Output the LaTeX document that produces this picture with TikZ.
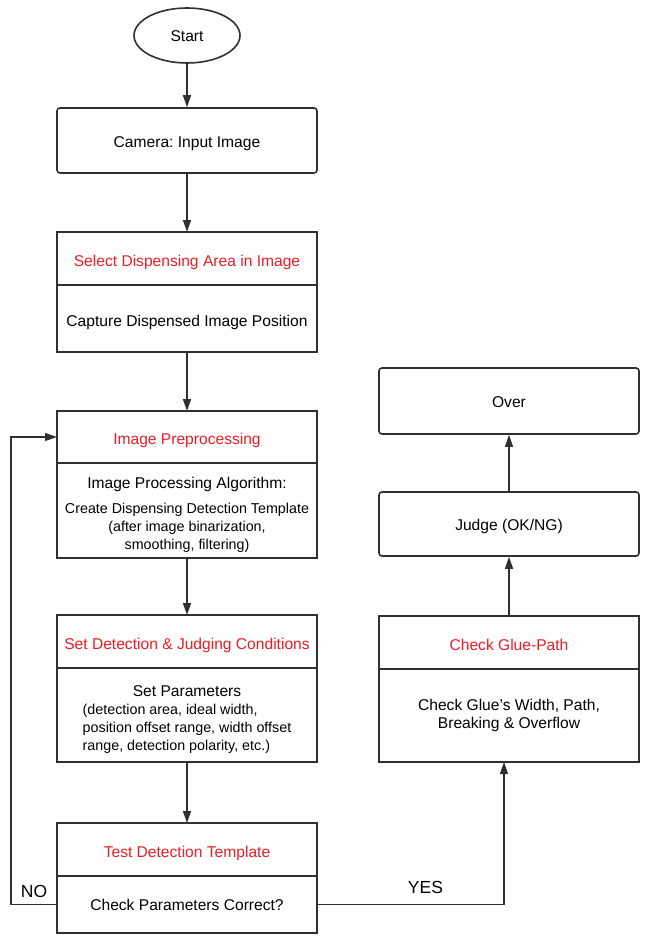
\documentclass[tikz,border=0pt]{standalone}
\usepackage{fontspec}
\setmainfont{Liberation Sans}
\usetikzlibrary{arrows.meta,positioning,shapes.geometric}
\definecolor{fcred}{HTML}{EC1C24}
\definecolor{fcline}{HTML}{303030}
\newcommand{\smalltxt}{\fontsize{14.3}{18}\selectfont}
\frenchspacing

\begin{document}
\begin{tikzpicture}[
  x=1pt, y=-1pt,
  font=\fontsize{15.6}{18}\selectfont,
  term/.style={draw=fcline, line width=1.6pt, ellipse, minimum width=106pt,
    minimum height=55pt, inner sep=0pt, text height=13pt, text depth=0pt},
  proc/.style={draw=fcline, line width=1.6pt, rounded corners=3pt,
    minimum width=260pt, align=center, text height=13.5pt, text depth=0pt},
  head/.style={draw=fcline, line width=1.6pt, minimum width=260pt,
    minimum height=53pt, outer sep=0pt, text=fcred, align=center,
    text height=15pt, text depth=0pt},
  body/.style={draw=fcline, line width=1.6pt, minimum width=260pt,
    outer sep=0pt, inner xsep=2pt, align=center},
  arr/.style={-{Triangle[length=12pt,width=8pt]}, line width=1.6pt, fcline},
  back/.style={-{Triangle[length=12pt,width=8pt]}, line width=1.1pt, fcline},
  lbl/.style={font=\fontsize{17.5}{20}\selectfont, text=black},
]
\useasboundingbox (0,0) rectangle (652,944);

% left column
\node[term] (start) at (187,35.5) {Start};
\node[proc, minimum height=65pt] (cam) at (187,140.5) {Camera: Input Image};
\node[head] (selh) at (187,258.5) {Select Dispensing Area in Image};
\node[body, below=0pt of selh, minimum height=67pt] (selb) {\rule{0pt}{19pt}Capture Dispensed Image Position};
\node[head, minimum height=52pt] (preh) at (187,437) {Image Preprocessing};
\node[body, below=0pt of preh, minimum height=93pt] (preb) {\rule{0pt}{22pt}Image Processing Algorithm:\\[8pt]
  {\smalltxt\begin{tabular}{@{}c@{}}Create Dispensing Detection Template\\(after image binarization,\\smoothing, filtering)\end{tabular}}};
\node[head] (seth) at (187,641.5) {Set Detection \& Judging Conditions};
\node[body, below=0pt of seth, minimum height=94pt] (setb) {\rule{0pt}{22.5pt}Set Parameters\\[5pt]
  {\smalltxt\begin{tabular}{@{}l@{}}(detection area, ideal width,\\position offset range, width offset\\range, detection polarity, etc.)\end{tabular}}};
\node[head] (testh) at (187,849.5) {Test Detection Template};
\node[body, below=0pt of testh, minimum height=57pt] (testb) {Check Parameters Correct?};

% right column
\node[proc, minimum height=66pt] (over) at (509,401) {Over};
\node[proc, minimum height=64pt] (judge) at (509,524) {Judge (OK/NG)};
\node[head] (glueh) at (509,642.5) {Check Glue-Path};
\node[body, below=0pt of glueh, minimum height=93pt] (glueb) {Check Glue's Width, Path,\\Breaking \& Overflow};

\draw[arr] (start) -- (cam);
\draw[arr] (cam) -- (selh);
\draw[arr] (selb) -- (preh);
\draw[arr] (preb) -- (seth);
\draw[arr] (setb) -- (testh);

\draw[back] (testb.west) -- ++(-46,0) node[lbl, midway, above=3pt] {NO} |- (preh.west);
\draw[back] (testb.east) -| node[lbl, pos=0.29, above=7pt] {YES} ([xshift=-5pt]glueb.south);
\draw[back] (glueh) -- (judge);
\draw[back] (judge) -- (over);
\end{tikzpicture}
\end{document}
